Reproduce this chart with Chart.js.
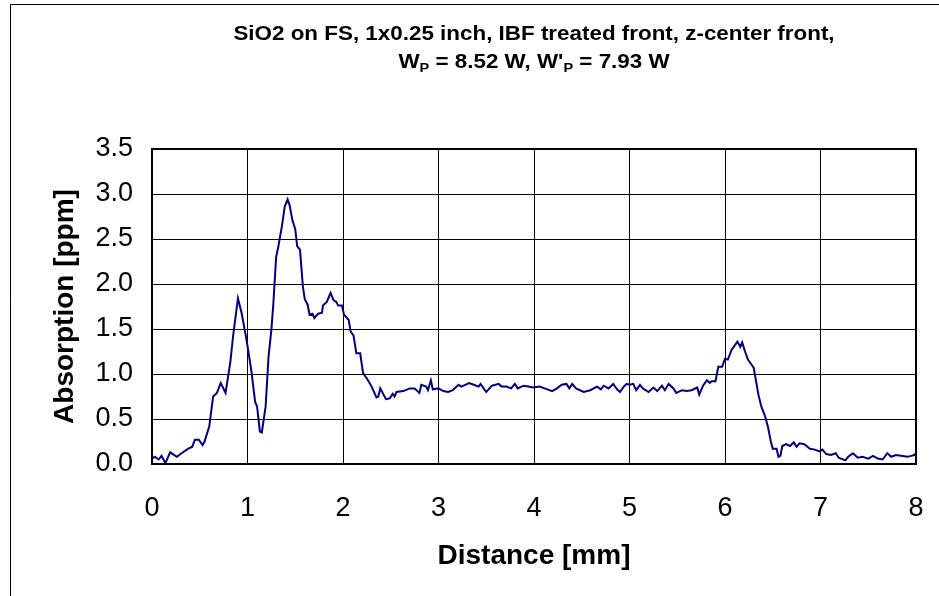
<!DOCTYPE html>
<html>
<head>
<meta charset="utf-8">
<script src="https://cdn.jsdelivr.net/npm/chart.js@4/dist/chart.umd.min.js"></script>
<style>
  html, body { margin: 0; padding: 0; background: #fff; }
  #wrap { position: relative; width: 939px; height: 596px; }
</style>
</head>
<body>
<div id="wrap"><canvas id="absChart" width="939" height="596"></canvas></div>
<script>
// absorption scan
const distance = [
  0.00, 0.03, 0.07, 0.10, 0.14, 0.19, 0.26, 0.31, 0.38, 0.42, 0.45, 0.49, 0.53, 0.55, 0.60, 0.64,
  0.68, 0.72, 0.77, 0.82, 0.85, 0.90, 0.94, 0.99, 1.04, 1.08, 1.10, 1.13, 1.15, 1.19, 1.22, 1.25,
  1.27, 1.30, 1.32, 1.36, 1.39, 1.42, 1.44, 1.47, 1.50, 1.52, 1.55, 1.58, 1.60, 1.63, 1.65, 1.68,
  1.70, 1.74, 1.78, 1.79, 1.83, 1.87, 1.90, 1.93, 1.95, 1.99, 2.01, 2.06, 2.08, 2.11, 2.14, 2.18,
  2.21, 2.25, 2.30, 2.35, 2.37, 2.39, 2.45, 2.49, 2.52, 2.54, 2.56, 2.63, 2.70, 2.75, 2.80, 2.82,
  2.87, 2.89, 2.92, 2.94, 3.00, 3.05, 3.10, 3.15, 3.21, 3.24, 3.28, 3.32, 3.37, 3.42, 3.44, 3.50,
  3.56, 3.63, 3.66, 3.71, 3.76, 3.80, 3.83, 3.89, 3.94, 3.99, 4.06, 4.11, 4.19, 4.24, 4.29, 4.34,
  4.37, 4.40, 4.44, 4.52, 4.59, 4.66, 4.70, 4.73, 4.78, 4.83, 4.87, 4.90, 4.94, 4.97, 5.00, 5.04,
  5.07, 5.11, 5.14, 5.20, 5.25, 5.29, 5.34, 5.37, 5.41, 5.46, 5.49, 5.55, 5.60, 5.65, 5.71, 5.73,
  5.77, 5.81, 5.84, 5.86, 5.90, 5.93, 5.97, 6.00, 6.03, 6.07, 6.11, 6.13, 6.16, 6.18, 6.21, 6.24,
  6.28, 6.30, 6.35, 6.38, 6.42, 6.45, 6.48, 6.50, 6.54, 6.56, 6.58, 6.60, 6.64, 6.68, 6.72, 6.75,
  6.78, 6.83, 6.89, 6.94, 6.99, 7.02, 7.06, 7.11, 7.16, 7.19, 7.26, 7.29, 7.34, 7.39, 7.44, 7.50,
  7.55, 7.60, 7.65, 7.70, 7.74, 7.79, 7.86, 7.91, 7.95, 7.98, 8.00
];
const absorption = [
  0.06, 0.08, 0.05, 0.09, 0.01, 0.13, 0.08, 0.12, 0.17, 0.19, 0.27, 0.27, 0.21, 0.25, 0.42, 0.75,
  0.79, 0.90, 0.79, 1.13, 1.43, 1.84, 1.67, 1.38, 1.04, 0.69, 0.64, 0.36, 0.35, 0.64, 1.19, 1.49,
  1.77, 2.30, 2.40, 2.64, 2.86, 2.94, 2.88, 2.71, 2.61, 2.42, 2.38, 1.97, 1.83, 1.77, 1.66, 1.67,
  1.62, 1.67, 1.68, 1.76, 1.80, 1.90, 1.82, 1.80, 1.76, 1.76, 1.66, 1.60, 1.47, 1.43, 1.23, 1.23,
  1.01, 0.95, 0.86, 0.74, 0.75, 0.84, 0.72, 0.73, 0.78, 0.75, 0.80, 0.81, 0.84, 0.84, 0.79, 0.88,
  0.86, 0.82, 0.93, 0.83, 0.84, 0.81, 0.80, 0.82, 0.88, 0.86, 0.88, 0.90, 0.88, 0.86, 0.89, 0.80,
  0.87, 0.89, 0.86, 0.86, 0.84, 0.89, 0.84, 0.87, 0.86, 0.85, 0.86, 0.84, 0.81, 0.84, 0.88, 0.89,
  0.84, 0.89, 0.84, 0.80, 0.82, 0.86, 0.83, 0.87, 0.84, 0.89, 0.83, 0.80, 0.86, 0.89, 0.88, 0.89,
  0.82, 0.88, 0.84, 0.80, 0.85, 0.81, 0.87, 0.82, 0.89, 0.84, 0.79, 0.82, 0.81, 0.82, 0.85, 0.77,
  0.87, 0.93, 0.90, 0.92, 0.92, 1.08, 1.08, 1.17, 1.16, 1.27, 1.33, 1.36, 1.30, 1.35, 1.25, 1.16,
  1.10, 1.07, 0.77, 0.64, 0.53, 0.41, 0.25, 0.17, 0.17, 0.08, 0.09, 0.20, 0.22, 0.20, 0.24, 0.19,
  0.23, 0.22, 0.17, 0.16, 0.14, 0.16, 0.11, 0.10, 0.12, 0.07, 0.04, 0.08, 0.12, 0.07, 0.08, 0.06,
  0.09, 0.06, 0.05, 0.12, 0.08, 0.10, 0.09, 0.08, 0.09, 0.10, 0.12
];

const yTicks = ['0.0', '0.5', '1.0', '1.5', '2.0', '2.5', '3.0', '3.5'];
const xTicks = ['0', '1', '2', '3', '4', '5', '6', '7', '8'];

// title parts: [text, isSubscript]
const titleLine1 = [['SiO2 on FS, 1x0.25 inch, IBF treated front, z-center front,', false]];
const titleLine2 = [['W', false], ['P', true], [' = 8.52 W, W\'', false], ['P', true], [' = 7.93 W', false]];

const FONT = '"Liberation Sans", Arial, sans-serif';

// outer frame + plot box + two-line title with subscripts
const decorations = {
  id: 'decorations',
  beforeDraw(chart) {
    const c = chart.ctx;
    c.save();
    c.fillStyle = '#fff';
    c.fillRect(0, 0, chart.width, chart.height);
    c.strokeStyle = '#000';
    c.lineWidth = 1;
    c.beginPath();
    c.moveTo(10.5, chart.height);
    c.lineTo(10.5, 4.5);
    c.lineTo(chart.width, 4.5);
    c.stroke();
    c.restore();
  },
  afterDraw(chart) {
    const c = chart.ctx;
    const a = chart.chartArea;
    c.save();
    c.strokeStyle = '#000';
    c.lineWidth = 2;
    c.strokeRect(a.left, a.top, a.right - a.left, a.bottom - a.top);

    const cx = (a.left + a.right) / 2;
    const drawLine = (parts, y) => {
      const big = 'bold 20px ' + FONT;
      const small = 'bold 13px ' + FONT;
      let w = 0;
      parts.forEach(([t, sub]) => { c.font = sub ? small : big; w += c.measureText(t).width; });
      c.save();
      c.translate(cx, y);
      c.scale(1.12, 1); // the original text is a bit wider than Arial
      let x = -w / 2;
      c.fillStyle = '#000';
      c.textBaseline = 'alphabetic';
      c.textAlign = 'left';
      parts.forEach(([t, sub]) => {
        c.font = sub ? small : big;
        c.fillText(t, x, sub ? 4 : 0);
        x += c.measureText(t).width;
      });
      c.restore();
    };
    drawLine(titleLine1, 40);
    drawLine(titleLine2, 68);
    c.restore();
  }
};

const ctx = document.getElementById('absChart').getContext('2d');

new Chart(ctx, {
  type: 'line',
  data: {
    datasets: [{
      label: 'Absorption',
      data: distance.map((d, i) => ({ x: d, y: absorption[i] })),
      borderColor: '#000080',
      borderWidth: 2,
      pointRadius: 0,
      tension: 0,
      fill: false
    }]
  },
  options: {
    responsive: false,
    animation: false,
    devicePixelRatio: 1,
    layout: { padding: { left: 0, top: 149, right: 23, bottom: 0 } },
    plugins: {
      legend: { display: false },
      tooltip: { enabled: false },
      title: { display: false }
    },
    scales: {
      x: {
        type: 'linear',
        min: 0,
        max: 8,
        afterFit(scale) {
          scale.height = 132;
          scale.paddingLeft = 0;
          scale.paddingRight = 0;
        },
        afterBuildTicks(scale) { scale.ticks = xTicks.map(t => ({ value: Number(t) })); },
        ticks: {
          padding: 28,
          color: '#000',
          font: { family: FONT, size: 27 },
          callback: (v) => xTicks.find(t => Number(t) === v)
        },
        grid: { color: '#000', lineWidth: 1, drawTicks: false },
        border: { display: false },
        title: {
          display: true,
          text: 'Distance [mm]',
          color: '#000',
          font: { family: FONT, size: 28, weight: 'bold' },
          padding: { top: 0, bottom: 23 }
        }
      },
      y: {
        min: 0,
        max: 3.5,
        afterFit(scale) {
          scale.width = 152;
          scale.paddingTop = 0;
          scale.paddingBottom = 0;
        },
        afterBuildTicks(scale) { scale.ticks = yTicks.map(t => ({ value: Number(t) })); },
        ticks: {
          padding: 19,
          color: '#000',
          font: { family: FONT, size: 27 },
          callback: (v) => yTicks.find(t => Number(t) === v)
        },
        grid: { color: '#000', lineWidth: 1, drawTicks: false },
        border: { display: false },
        title: {
          display: true,
          text: 'Absorption [ppm]',
          color: '#000',
          font: { family: FONT, size: 28, weight: 'bold' },
          padding: { top: 48, bottom: 0 }
        }
      }
    }
  },
  plugins: [decorations]
});
</script>
</body>
</html>
